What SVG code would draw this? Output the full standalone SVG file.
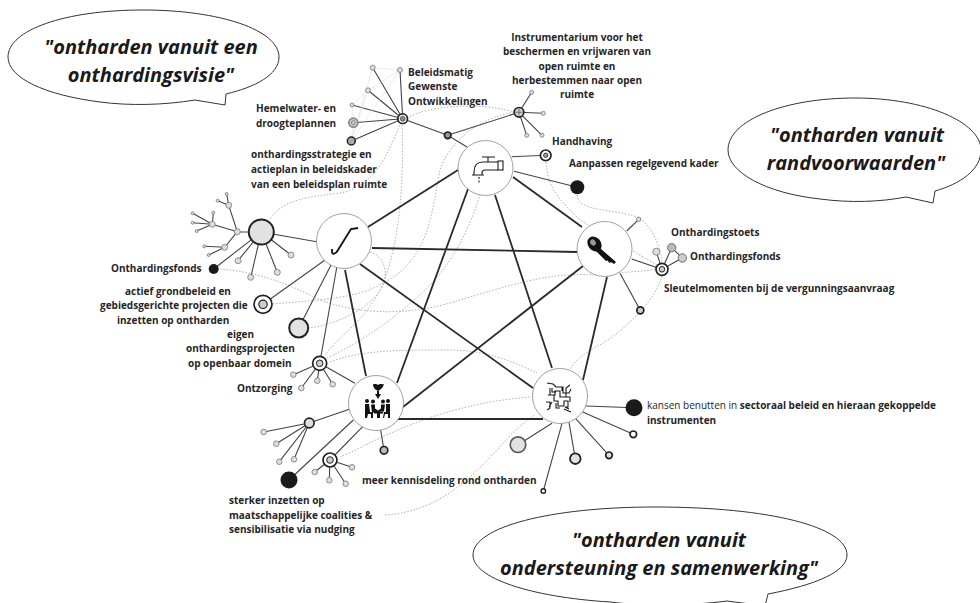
<svg xmlns="http://www.w3.org/2000/svg" width="980" height="603" viewBox="0 0 980 603">
<defs>
<style>
text{font-family:"Open Sans","Liberation Sans",sans-serif;fill:#262626}
.t{font-size:10px;font-weight:700}
.m{text-anchor:middle}
.b{font-size:20px;font-weight:700;font-style:italic;text-anchor:middle;fill:#1a1a1a}
.bub{fill:#fff;stroke:#333;stroke-width:1}
.hub{fill:#fff;stroke:#888;stroke-width:.8}
.p{stroke:#2a2a2a;stroke-width:1.8;fill:none}
.l{stroke:#444;stroke-width:1.1;fill:none}
.d{stroke:#aaa;stroke-width:.9;fill:none;stroke-dasharray:1.6 1.6}
.f{stroke:#ddd;stroke-width:.6;fill:none}
.n{fill:#fff;stroke:#222;stroke-width:1.7}
.g{fill:#e2e2e2;stroke:#222;stroke-width:2}
.s{fill:#ddd;stroke:#777;stroke-width:.8}
.k{fill:#1a1a1a}
.il{fill:none;stroke:#1a1a1a;stroke-width:1.1}
</style>
</defs>
<g id="bubble-visie">
<path class="bub" d="M195,100 C165,105 130,106 100,102 C45,95 8,78 8,57 C8,30 65,10 143,10 C220,10 279,30 279,57 C279,75 255,87 226,94 L225,105 Z"/>
<text class="b" x="151" y="54">"ontharden vanuit een</text>
<text class="b" x="151" y="82">onthardingsvisie"</text>
</g>
<g id="bubble-randvoorwaarden">
<path class="bub" d="M906,197 C880,202 850,203 820,199 C765,193 728,172 728,150 C728,120 785,98 855,98 C925,98 981,122 981,150 C981,170 960,184 935,191 L933,203 Z"/>
<text class="b" x="857" y="142">"ontharden vanuit</text>
<text class="b" x="856" y="170">randvoorwaarden"</text>
</g>
<g id="bubble-ondersteuning">
<path class="bub" d="M765,606 L727,601 C690,606 640,606 610,602 C530,597 473,578 473,555 C473,527 550,507 655,507 C770,507 847,527 847,555 C847,572 815,585 768,594 Z"/>
<text class="b" x="659" y="547">"ontharden vanuit</text>
<text class="b" x="659" y="575">ondersteuning en samenwerking"</text>
</g>
<g id="connectors">
<g id="dotted">
<path class="d" d="M270,219 C285,198 310,197 340,193 C375,187 390,150 400,124"/>
<path class="d" d="M402,125 C405,200 395,260 380,290 C365,320 340,335 325,355"/>
<path class="d" d="M407,118 C430,105 480,102 514,112"/>
<path class="d" d="M514,112 C480,118 450,140 440,170 C432,210 430,260 383,283 C360,298 320,300 272,304"/>
<path class="d" d="M220,269 C260,272 290,285 320,300 C370,318 420,313 460,300 C510,285 550,272 593,275 C620,272 640,272 657,269"/>
<path class="d" d="M546,162 C548,190 560,200 580,220 L657,265"/>
<path class="d" d="M577,195 C578,212 610,208 637,217 C652,225 660,245 662,263"/>
<path class="d" d="M662,276 C655,300 630,325 605,342 C590,350 575,358 570,370"/>
<path class="d" d="M480,194 C470,230 450,265 430,285 C400,315 365,340 327,358"/>
<path class="d" d="M308,328 C340,325 390,300 385,270 C383,258 375,253 370,252"/>
<path class="d" d="M330,362 C360,350 400,350 450,350 C490,350 520,365 537,373"/>
<path class="d" d="M340,457 C370,445 430,405 530,397"/>
<path class="d" d="M385,515 C430,512 460,490 497,450 C510,435 520,425 535,415"/>
</g>
<g id="strong">
<path class="p" d="M368,227 L458,170M372,248 L577,252M345,270 L366,376M360,264 L533,388M468,189 L397,383M495,195 L552,368M513,177 L582,227M583,266 L403,407M607,277 L583,380M397,419 L543,419"/>
</g>
<g id="thin">
<path class="l" d="M402.7,118.7 L372.7,67.7M402.7,118.7 L400,70M402.7,118.7 L368,90.3M402.7,118.7 L352,105M402.7,118.7 L353.3,122.7M402.7,118.7 L351.3,141M402.7,118.7 L447.7,135.3 L467,147"/>
<path class="l" d="M447.7,135.3 L519,112.3L531.7,92.3M519,112.3 L543.3,113.3M519,112.3 L542,135.3M519,112.3 L526.7,135.3"/>
<path class="l" d="M511.7,156.7 L545.7,155.3M514,171.3 L577.3,187.3M626.7,231 L638.7,219.3M631.7,259 L662,269.3L671.7,247.7M662,269.3 L682.3,258M662,269.3 L656.3,251.7M671.7,247.7 L682.3,258M620,273.3 L640.3,310.3"/>
<path class="l" d="M261.3,232 L316.7,241.7M261.3,232 L237.3,231.7L212.3,224.3L192.7,213.3M212.3,224.3 L213.3,212.7M212.3,224.3 L192.7,222.7M212.3,224.3 L196.7,231M237.3,231.7 L228.7,205.3L226.7,194M228.7,205.3 L217.7,200.7M237.3,231.7 L224.7,247.3L204.3,246.3M224.7,247.3 L208.7,255M261.3,232 L238,260.7M261.3,232 L250.7,277.3M261.3,232 L277.3,272.3M261.3,232 L291,255M261.3,232 L213.7,269"/>
<path class="l" d="M263,304.3 L325,260M298.7,328 L331,265M319.7,363.3 L337,266M293.3,374.7 L319.7,363.3L301.3,388M319.7,363.3 L317.3,380.7M319.7,363.3 L332.7,384.3M319.7,363.3 L355,383.3"/>
<path class="l" d="M309.3,423 L349.3,409.3M309.3,423 L263.7,432M309.3,423 L276.3,443.7M309.3,423 L279.3,461.7M309.3,423 L294,459.3M289,480 L353.3,420M330,460 L362.7,426.7M314.7,472 L330,460L329.3,480.3M330,460 L345.7,483.7M330,460 L352,467.3M384,450.3 L380.7,430"/>
<path class="l" d="M585.7,406 L634,407.7M582.7,412 L633.3,434.3M575.7,418.7 L609,455.3M569,422.3 L575.3,458.7M552,423.3 L518,444.7M562,423.3 L543.3,491"/>
</g>
<g id="faint">
<path class="f" d="M372.7,67.7 L351.3,141M372.7,67.7 L400,70M400,70 L368,90.3M368,90.3 L352,105L353.3,122.7L351.3,141M400,70 L351.3,141M368,90.3 L351.3,141"/>
</g>
</g>
<g id="hub-tap">
<circle class="hub" cx="485.5" cy="168" r="27.5"/>
<path class="il" d="M482,157h13M488,157v5M498,162h-15c-6,0-9,4-9,10v3h8v-2c0-2,1-3,3-3h13M472,175h12"/>
<rect x="498" y="161" width="5" height="9" fill="#fff" stroke="#1a1a1a" stroke-width="1.100"/>
<path class="il" stroke-dasharray="2 1.500" d="M479,177v7"/>
</g>
<g id="hub-key">
<circle class="hub" cx="604.500" cy="249" r="27.500"/>
<ellipse cx="594.500" cy="244" rx="6.500" ry="8" transform="rotate(-40 594.500 244)" fill="#111"/>
<ellipse cx="593" cy="242.500" rx="2.600" ry="3.200" transform="rotate(-40 593 242.500)" fill="#999"/>
<path d="M597,245.500 L616,262 L614,264 L611,262 L609.500,263 L607.500,260.500 L606,261 L595,250 Z" fill="#111"/>
</g>
<g id="hub-hook">
<circle class="hub" cx="344" cy="241" r="27.500"/>
<path d="M358,228 L351,229 L338,250 C336,254 332,255 332,252 L332,249" fill="none" stroke="#111" stroke-width="1.800"/>
</g>
<g id="hub-people">
<circle class="hub" cx="376" cy="403" r="27.500"/>
<path d="M378,385 C376,383 374,385 373,384 C373,388 376,390 378,391 C380,390 383,388 384,384 C382,385 380,383 378,385ZM377,391h2v3h2l-3,5l-3,-5h2z" fill="#111"/>
<g fill="#111">
<circle cx="367" cy="401" r="2"/><circle cx="373" cy="401.500" r="2"/><circle cx="383" cy="401.500" r="2"/><circle cx="388" cy="401" r="2"/>
<path d="M365,404h4l1,8h3v6h-2v-4h-3l-1,4h-2zM371,404.500h4v4l3,2l3,-2v-4h4l-1,7l-12,1zM374,412h9v1.500h-3v4.500h-3v-4.500h-3zM386,404h4v14h-2v-4h-3l-1,4h-1l1,-6h2z"/>
</g>
</g>
<g id="hub-puzzle">
<circle class="hub" cx="560" cy="396" r="27.500"/>
<path class="il" d="M547,383l6,1l3,3h7v6h3v-5l4,-3M550,388v7h5v-4h5v6h6v-4h3l2,-4M548,395h6v6h4v5h6v-5h4v6h-3l4,2M546,402l4,0v6l-3,2M552,402l-3,5M564,409l7,3M556,403v5h4M552,388v4h4M562,391v-4M566,397h4v5"/>
</g>
<g id="n-beleid">
<circle class="s" cx="372.700" cy="67.700" r="2.500"/><circle class="s" cx="400" cy="70" r="2.500"/><circle class="s" cx="368" cy="90.300" r="2.500"/><circle class="s" cx="352" cy="105" r="2"/>
<circle class="n" cx="353.300" cy="122.700" r="4.500" style="fill:#ccc;stroke:#888"/><circle cx="353.300" cy="122.700" r="2" fill="none" stroke="#888"/>
<circle class="n" cx="351.300" cy="141" r="4" style="fill:#aaa;stroke-width:1.500"/>
<circle class="n" cx="402.700" cy="118.700" r="4.800"/><circle cx="402.700" cy="118.700" r="2.500" fill="#888" stroke="#333" stroke-width=".6"/>
<circle class="n" cx="447.700" cy="135.300" r="3.300" style="fill:#999"/>
<text class="t" x="408" y="76">Beleidsmatig</text><text class="t" x="408" y="90">Gewenste</text><text class="t" x="408" y="105">Ontwikkelingen</text>
<text class="t" x="256" y="112">Hemelwater- en</text><text class="t" x="256" y="127">droogteplannen</text>
<text class="t" x="251" y="158">onthardingsstrategie en</text><text class="t" x="251" y="173">actieplan in beleidskader</text><text class="t" x="251" y="188">van een beleidsplan ruimte</text>
</g>
<g id="n-instrument">
<circle class="s" cx="531.700" cy="92.300" r="2"/><circle class="s" cx="543.300" cy="113.300" r="2"/><circle class="s" cx="542" cy="135.300" r="2"/><circle class="s" cx="526.700" cy="135.300" r="2"/>
<circle class="n" cx="519" cy="112.300" r="4.800" style="fill:#ccc"/><path d="M515.500,112.300h7M519,108.800v7" stroke="#444" stroke-width=".6"/>
<text class="t m" x="577" y="41">Instrumentarium voor het</text><text class="t m" x="577" y="55">beschermen en vrijwaren van</text><text class="t m" x="577" y="69.500">open ruimte en</text><text class="t m" x="577" y="84">herbestemmen naar open</text><text class="t m" x="577" y="98">ruimte</text>
</g>
<g id="n-handhaving">
<circle class="n" cx="545.700" cy="155.300" r="5.300"/><circle cx="545.700" cy="155.300" r="2.200" fill="#999" stroke="#222" stroke-width=".8"/>
<text class="t" x="552" y="145">Handhaving</text>
</g>
<g id="n-regelgevend">
<circle class="k" cx="577.300" cy="187.300" r="7"/>
<text class="t" x="569" y="167">Aanpassen regelgevend kader</text>
</g>
<g id="n-sleutel">
<circle class="s" cx="638.700" cy="219.300" r="2.200"/>
<circle class="s" cx="656.300" cy="251.700" r="3.500"/>
<circle class="s" cx="671.700" cy="247.700" r="4.200" style="fill:#bbb;stroke:#555"/><circle class="s" cx="682.300" cy="258" r="4.200" style="fill:#ccc;stroke:#555"/>
<circle class="n" cx="662" cy="269.300" r="6"/><circle cx="662" cy="269.300" r="2.800" fill="#ccc" stroke="#222" stroke-width="1"/>
<circle class="n" cx="640.300" cy="310.300" r="3.500" style="fill:#ccc"/>
<text class="t" x="671" y="236">Onthardingstoets</text><text class="t" x="690" y="260">Onthardingsfonds</text><text class="t" x="664" y="292">Sleutelmomenten bij de vergunningsaanvraag</text>
</g>
<g id="n-fonds">
<circle class="g" cx="261.300" cy="232" r="12.500"/>
<circle class="s" cx="237.300" cy="231.700" r="3"/><circle class="s" cx="212.300" cy="224.300" r="3"/><circle class="s" cx="228.700" cy="205.300" r="3"/><circle class="s" cx="224.700" cy="247.300" r="3"/>
<circle class="s" cx="226.700" cy="194" r="1.500"/><circle class="s" cx="217.700" cy="200.700" r="1.500"/><circle class="s" cx="213.300" cy="212.700" r="1.500"/><circle class="s" cx="192.700" cy="213.300" r="1.500"/><circle class="s" cx="192.700" cy="222.700" r="1.500"/><circle class="s" cx="196.700" cy="231" r="1.500"/><circle class="s" cx="204.300" cy="246.300" r="1.500"/><circle class="s" cx="208.700" cy="255" r="1.500"/>
<circle class="s" cx="238" cy="260.700" r="3"/><circle class="s" cx="250.700" cy="277.300" r="3"/><circle class="s" cx="277.300" cy="272.300" r="3"/><circle class="s" cx="291" cy="255" r="3"/>
<circle class="k" cx="213.700" cy="269" r="5"/>
<text class="t" x="111" y="272">Onthardingsfonds</text>
</g>
<g id="n-actief">
<circle class="n" cx="263" cy="304.300" r="9"/><circle cx="263" cy="304.300" r="4.200" fill="#ccc" stroke="#222" stroke-width="1.200"/>
<text class="t" x="125" y="295">actief grondbeleid en</text><text class="t" x="100" y="309">gebiedsgerichte projecten die</text><text class="t" x="117" y="324">inzetten op ontharden</text>
</g>
<g id="n-eigen">
<circle class="g" cx="298.700" cy="328" r="9.500"/>
<text class="t" x="227" y="338">eigen</text><text class="t" x="186" y="352">onthardingsprojecten</text><text class="t" x="188" y="367">op openbaar domein</text>
</g>
<g id="n-ontzorging">
<circle class="s" cx="293.300" cy="374.700" r="2.800"/><circle class="s" cx="301.300" cy="388" r="2.800"/><circle class="s" cx="317.300" cy="380.700" r="2.800"/><circle class="s" cx="332.700" cy="384.300" r="2.800"/>
<circle class="n" cx="319.700" cy="363.300" r="7"/><circle cx="319.700" cy="363.300" r="3.300" fill="#ccc" stroke="#222"/>
<text class="t" x="237" y="392">Ontzorging</text>
</g>
<g id="n-coalities">
<circle class="n" cx="309.300" cy="423" r="4.800" style="fill:#ddd"/>
<circle class="s" cx="263.700" cy="432" r="2.800"/><circle class="s" cx="276.300" cy="443.700" r="2.800"/><circle class="s" cx="279.300" cy="461.700" r="2.800"/><circle class="s" cx="294" cy="459.300" r="2.800"/>
<circle class="k" cx="289" cy="480" r="8.500"/>
<circle class="s" cx="314.700" cy="472" r="2.800"/><circle class="s" cx="329.300" cy="480.300" r="2.800"/><circle class="s" cx="345.700" cy="483.700" r="2.800"/><circle class="s" cx="352" cy="467.300" r="2.800"/>
<circle class="n" cx="330" cy="460" r="7"/><circle cx="330" cy="460" r="3.300" fill="#ccc" stroke="#222"/>
<text class="t" x="229" y="504">sterker inzetten op</text><text class="t" x="229" y="519">maatschappelijke coalities &amp;</text><text class="t" x="229" y="533">sensibilisatie via nudging</text>
</g>
<g id="n-kennis">
<circle class="n" cx="384" cy="450.300" r="3.800" style="fill:#bbb"/>
<text class="t" x="362" y="484">meer kennisdeling rond ontharden</text>
</g>
<g id="n-sectoraal">
<circle class="k" cx="634" cy="407.700" r="8.500"/>
<circle class="n" cx="633.300" cy="434.300" r="3.300"/><circle class="n" cx="609" cy="455.300" r="3.300" style="fill:#ddd"/>
<circle class="g" cx="575.300" cy="458.700" r="5.300" style="stroke-width:1.800"/><circle class="g" cx="518" cy="444.700" r="7.800" style="stroke:#555;stroke-width:1.600"/>
<circle class="n" cx="543.300" cy="491" r="2.300" style="stroke-width:1.400"/>
<text x="647" y="409" font-size="10">kansen benutten in <tspan font-weight="700">sectoraal beleid en hieraan gekoppelde</tspan></text>
<text class="t" x="647" y="424">instrumenten</text>
</g>
</svg>
